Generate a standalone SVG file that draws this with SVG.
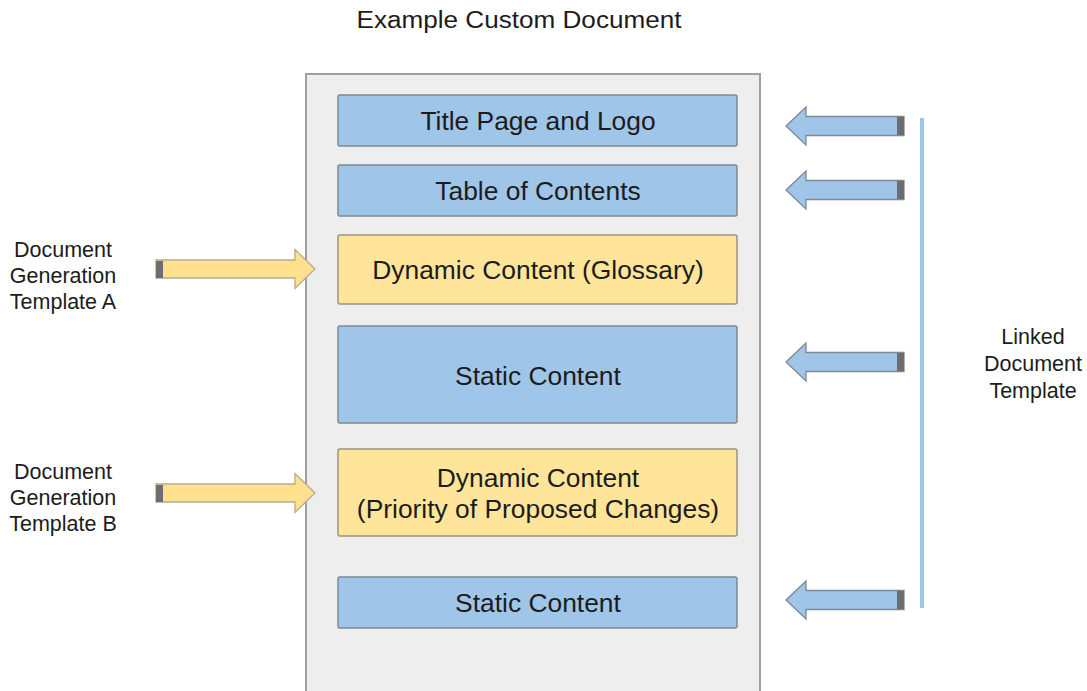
<svg xmlns="http://www.w3.org/2000/svg" width="1087" height="691" viewBox="0 0 1087 691">
<defs>
<style>
text{font-family:"Liberation Sans",Arial,sans-serif;fill:#1c1c1c;text-anchor:middle}
.box text{font-size:26.4px}
.lbl{font-size:21.5px}
.blue{fill:#9fc5e8;stroke:#7d8a96;stroke-width:1.5}
.yel{fill:#ffe599;stroke:#9a9480;stroke-width:1.5}
.arrB{fill:#9fc5e8;stroke:#7d8a96;stroke-width:1.3}
.arrY{fill:#ffe08f;stroke:#b5ad90;stroke-width:1.3}
.tail{fill:#6d6d6d}
</style>
<path id="arrowL" d="M0,0 L20,-19 L20,-9.5 L118,-9.5 L118,9.5 L20,9.5 L20,19 Z"/>
<path id="arrowR" d="M0,0 L-20,-19.5 L-20,-9 L-159,-9 L-159,9 L-20,9 L-20,19.5 Z"/>
</defs>
<rect width="1087" height="691" fill="#ffffff"/>
<text x="519" y="28" style="font-size:23.5px" textLength="325" lengthAdjust="spacingAndGlyphs">Example Custom Document</text>
<g id="container">
<rect x="306" y="74" width="454" height="640" fill="#eeeeee" stroke="#a0a0a0" stroke-width="2"/>
</g>
<g id="title-page" class="box">
<rect class="blue" x="338" y="95" width="399" height="51" rx="2"/>
<text x="538" y="130">Title Page and Logo</text>
</g>
<g id="toc" class="box">
<rect class="blue" x="338" y="165" width="399" height="51" rx="2"/>
<text x="538" y="200">Table of Contents</text>
</g>
<g id="dyn-glossary" class="box">
<rect class="yel" x="338" y="235" width="399" height="69" rx="2"/>
<text x="538" y="279">Dynamic Content (Glossary)</text>
</g>
<g id="static1" class="box">
<rect class="blue" x="338" y="326" width="399" height="97" rx="2"/>
<text x="538" y="385">Static Content</text>
</g>
<g id="dyn-priority" class="box">
<rect class="yel" x="338" y="449" width="399" height="87" rx="2"/>
<text x="538" y="487">Dynamic Content</text>
<text x="538" y="518">(Priority of Proposed Changes)</text>
</g>
<g id="static2" class="box">
<rect class="blue" x="338" y="577" width="399" height="51" rx="2"/>
<text x="538" y="612">Static Content</text>
</g>
<g id="label-a">
<text class="lbl" x="63" y="257">Document</text>
<text class="lbl" x="63" y="283">Generation</text>
<text class="lbl" x="63" y="309">Template A</text>
</g>
<g id="label-b">
<text class="lbl" x="63" y="479">Document</text>
<text class="lbl" x="63" y="505">Generation</text>
<text class="lbl" x="63" y="531">Template B</text>
</g>
<g id="label-linked">
<text class="lbl" x="1033" y="344">Linked</text>
<text class="lbl" x="1033" y="371">Document</text>
<text class="lbl" x="1033" y="398">Template</text>
</g>
<g id="connectors">
<rect x="920" y="118" width="4" height="490" fill="#9fc5e8"/>
<g class="arrB">
<use href="#arrowL" x="786" y="126"/>
<use href="#arrowL" x="786" y="190"/>
<use href="#arrowL" x="786" y="362"/>
<use href="#arrowL" x="786" y="600"/>
</g>
<rect class="tail" x="897" y="117" width="7" height="18"/>
<rect class="tail" x="897" y="181" width="7" height="18"/>
<rect class="tail" x="897" y="353" width="7" height="18"/>
<rect class="tail" x="897" y="591" width="7" height="18"/>
<g class="arrY">
<use href="#arrowR" x="315" y="269"/>
<use href="#arrowR" x="315" y="493"/>
</g>
<rect class="tail" x="156" y="261" width="7" height="17"/>
<rect class="tail" x="156" y="485" width="7" height="17"/>
</g>
</svg>
